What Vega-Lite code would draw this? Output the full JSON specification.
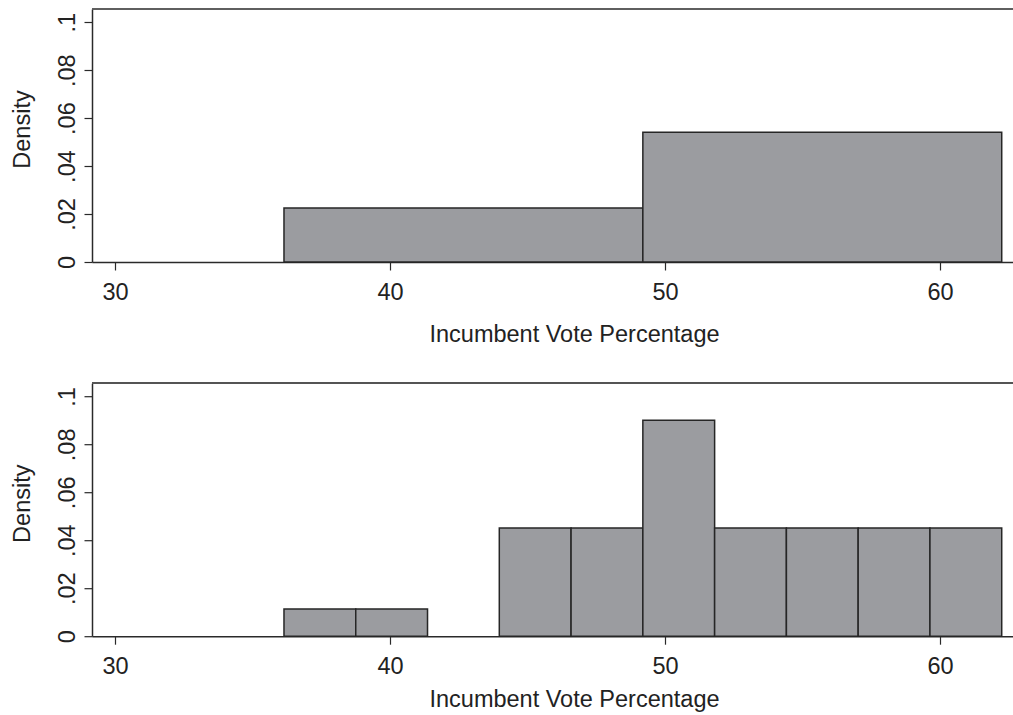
{
  "$schema": "https://vega.github.io/schema/vega-lite/v6.json",
  "background": "white",
  "padding": {"left": 10, "top": 8, "right": 0, "bottom": 2},
  "datasets": {
    "twoBins": [
      {"start": 36.145, "end": 49.195, "density": 0.0225},
      {"start": 49.195, "end": 62.245, "density": 0.0541}
    ],
    "tenBins": [
      {"start": 36.145, "end": 38.755, "density": 0.0113},
      {"start": 38.755, "end": 41.365, "density": 0.0113},
      {"start": 43.975, "end": 46.585, "density": 0.0451},
      {"start": 46.585, "end": 49.195, "density": 0.0451},
      {"start": 49.195, "end": 51.805, "density": 0.0901},
      {"start": 51.805, "end": 54.415, "density": 0.0451},
      {"start": 54.415, "end": 57.025, "density": 0.0451},
      {"start": 57.025, "end": 59.635, "density": 0.0451},
      {"start": 59.635, "end": 62.245, "density": 0.0451}
    ]
  },
  "vconcat": [
    {
      "width": 921,
      "height": 253,
      "data": {"name": "twoBins"},
      "layer": [
        {
          "mark": {"type": "rect", "fill": "#9b9ca0", "stroke": "#262626", "strokeWidth": 1.5},
          "encoding": {
            "x": {"field": "start", "type": "quantitative", "scale": {"domain": [29.164, 62.655], "nice": false, "zero": false},
              "axis": {"values": [30, 40, 50, 60], "title": "Incumbent Vote Percentage", "titleX": 482, "titleY": 60, "titleAlign": "center", "titleBaseline": "top"}},
            "x2": {"field": "end"},
            "y": {"field": "density", "type": "quantitative", "scale": {"domain": [0, 0.1055], "nice": false},
              "axis": {"values": [0, 0.02, 0.04, 0.06, 0.08, 0.1], "title": "Density", "titleX": -58, "titleY": 120,
                "labelExpr": "datum.value == 0 ? '0' : replace(format(datum.value, '.2~f'), '0.', '.')"}},
            "y2": {"datum": 0}
          }
        },
        {
          "mark": {"type": "rule", "color": "#555555", "strokeWidth": 1.5},
          "encoding": {"y": {"datum": 0.1055, "type": "quantitative"}}
        }
      ]
    },
    {
      "width": 921,
      "height": 253,
      "data": {"name": "tenBins"},
      "layer": [
        {
          "mark": {"type": "rect", "fill": "#9b9ca0", "stroke": "#262626", "strokeWidth": 1.5},
          "encoding": {
            "x": {"field": "start", "type": "quantitative", "scale": {"domain": [29.164, 62.655], "nice": false, "zero": false},
              "axis": {"values": [30, 40, 50, 60], "title": "Incumbent Vote Percentage", "titleX": 482, "titleY": 51.6, "titleAlign": "center", "titleBaseline": "top"}},
            "x2": {"field": "end"},
            "y": {"field": "density", "type": "quantitative", "scale": {"domain": [0, 0.1055], "nice": false},
              "axis": {"values": [0, 0.02, 0.04, 0.06, 0.08, 0.1], "title": "Density", "titleX": -58, "titleY": 120,
                "labelExpr": "datum.value == 0 ? '0' : replace(format(datum.value, '.2~f'), '0.', '.')"}},
            "y2": {"datum": 0}
          }
        },
        {
          "mark": {"type": "rule", "color": "#555555", "strokeWidth": 1.5},
          "encoding": {"y": {"datum": 0.1055, "type": "quantitative"}}
        }
      ]
    }
  ],
  "spacing": 121.2,
  "bounds": "flush",
  "config": {
    "view": {"stroke": null},
    "font": "Liberation Sans",
    "axis": {
      "grid": false,
      "domainColor": "#2a2a2a",
      "domainWidth": 1.5,
      "tickColor": "#2a2a2a",
      "tickWidth": 1.2,
      "tickSize": 8,
      "labelFont": "Liberation Sans",
      "labelFontSize": 23.5,
      "labelColor": "#222222",
      "titleFont": "Liberation Sans",
      "titleFontSize": 23.5,
      "titleFontWeight": "normal",
      "titleColor": "#222222"
    },
    "axisX": {"labelPadding": 10, "labelFlush": false, "labelOverlap": false},
    "axisY": {"labelPadding": 5, "labelAngle": -90, "labelAlign": "center", "labelBaseline": "bottom", "titleAngle": -90, "titleAlign": "center", "titleBaseline": "bottom", "labelOverlap": false}
  }
}
